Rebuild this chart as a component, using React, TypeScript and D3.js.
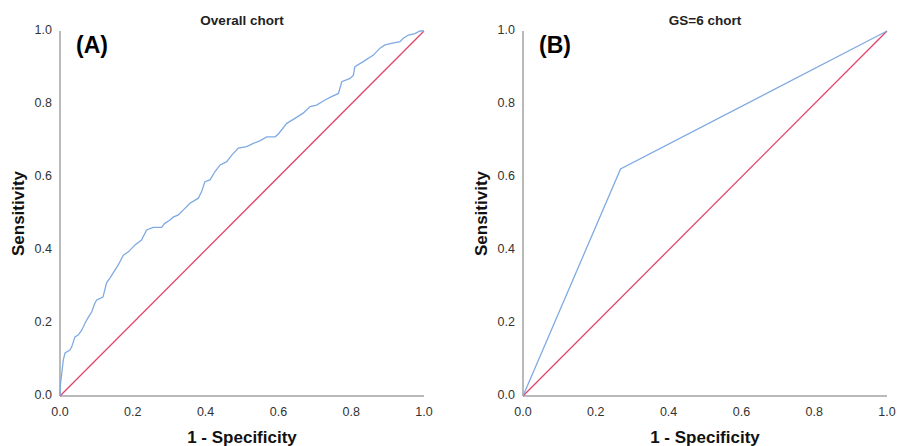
import * as d3 from "d3";

// ROC curve, panel A (overall)
const fprA = [
  0, 0.001, 0.005, 0.009, 0.014, 0.027, 0.032, 0.041, 0.05, 0.06, 0.069, 0.078,
  0.087, 0.096, 0.101, 0.118, 0.128, 0.137, 0.151, 0.16, 0.174, 0.188, 0.206,
  0.224, 0.238, 0.256, 0.279, 0.288, 0.302, 0.311, 0.325, 0.339, 0.357, 0.38,
  0.389, 0.398, 0.412, 0.426, 0.44, 0.458, 0.472, 0.49, 0.513, 0.531, 0.549,
  0.568, 0.591, 0.6, 0.623, 0.641, 0.668, 0.687, 0.705, 0.728, 0.746, 0.765,
  0.774, 0.797, 0.806, 0.81, 0.833, 0.861, 0.879, 0.893, 0.911, 0.934, 0.943,
  0.957, 0.975, 0.989, 1,
];
const tprA = [
  0, 0.03, 0.063, 0.099, 0.118, 0.126, 0.134, 0.162, 0.167, 0.181, 0.2, 0.216,
  0.23, 0.255, 0.263, 0.271, 0.31, 0.323, 0.345, 0.359, 0.386, 0.395, 0.414,
  0.427, 0.455, 0.462, 0.462, 0.473, 0.482, 0.49, 0.496, 0.51, 0.528, 0.542,
  0.56, 0.587, 0.592, 0.615, 0.633, 0.642, 0.66, 0.679, 0.683, 0.692, 0.699,
  0.71, 0.71, 0.718, 0.747, 0.758, 0.775, 0.793, 0.797, 0.811, 0.82, 0.829,
  0.861, 0.87, 0.879, 0.902, 0.916, 0.934, 0.953, 0.962, 0.966, 0.971, 0.98,
  0.989, 0.993, 1, 1,
];

// panel B (GS=6)
const fprB = [0, 0.268, 1];
const tprB = [0, 0.622, 1];

// reference diagonal
const refLine = [0, 1];

const ticks = [0, 0.2, 0.4, 0.6, 0.8, 1.0];

const panels = [
  { label: "(A)", title: "Overall chort", fpr: fprA, tpr: tprA, left: 60 },
  { label: "(B)", title: "GS=6 chort", fpr: fprB, tpr: tprB, left: 523 },
];

const W = 898;
const H = 446;
const plotW = 364;
const top = 31;
const bottom = 396;
const font = "'Liberation Sans', Arial, sans-serif";

function Panel({ p }: { p: (typeof panels)[number] }) {
  const x = d3.scaleLinear().domain([0, 1]).range([p.left, p.left + plotW]);
  const y = d3.scaleLinear().domain([0, 1]).range([bottom, top]);
  const pts = p.fpr.map((v, i) => [v, p.tpr[i]] as [number, number]);
  const line = d3
    .line<[number, number]>()
    .x((d) => x(d[0]))
    .y((d) => y(d[1]))
    .curve(d3.curveLinear);
  const diag = refLine.map((v) => [v, v] as [number, number]);

  return (
    <g fontFamily={font}>
      <text
        x={(x(0) + x(1)) / 2}
        y={25}
        textAnchor="middle"
        fontSize={13.5}
        fontWeight="bold"
        fill="#222"
      >
        {p.title}
      </text>
      {/* axes */}
      <line x1={x(0)} x2={x(0)} y1={y(1)} y2={y(0)} stroke="#a3a3a3" strokeWidth={1.5} />
      <line x1={x(0)} x2={x(1)} y1={y(0)} y2={y(0)} stroke="#a3a3a3" strokeWidth={1.5} />
      {ticks.map((t) => (
        <text
          key={"y" + t}
          x={x(0) - 8}
          y={y(t)}
          textAnchor="end"
          dominantBaseline="middle"
          fontSize={12.5}
          fill="#333"
        >
          {t.toFixed(1)}
        </text>
      ))}
      {ticks.map((t) => (
        <text
          key={"x" + t}
          x={x(t)}
          y={416}
          textAnchor="middle"
          fontSize={12.5}
          fill="#333"
        >
          {t.toFixed(1)}
        </text>
      ))}
      <text
        x={(x(0) + x(1)) / 2}
        y={443}
        textAnchor="middle"
        fontSize={17}
        fontWeight="bold"
        fill="#111"
      >
        1 - Specificity
      </text>
      <text
        transform={`translate(${x(0) - 36},${(y(0) + y(1)) / 2}) rotate(-90)`}
        textAnchor="middle"
        fontSize={17}
        fontWeight="bold"
        fill="#111"
      >
        Sensitivity
      </text>
      <path d={line(diag) ?? ""} fill="none" stroke="#e2456a" strokeWidth={1.3} />
      <path d={line(pts) ?? ""} fill="none" stroke="#7faae2" strokeWidth={1.3} />
      <text x={x(0) + 16} y={53} fontSize={23} fontWeight="bold" fill="#000">
        {p.label}
      </text>
    </g>
  );
}

export default function App() {
  return (
    <div style={{ position: "absolute", left: 0, top: 0 }}>
      <svg width={W} height={H} style={{ display: "block", background: "#fff" }}>
        {panels.map((p) => (
          <Panel key={p.label} p={p} />
        ))}
      </svg>
    </div>
  );
}
